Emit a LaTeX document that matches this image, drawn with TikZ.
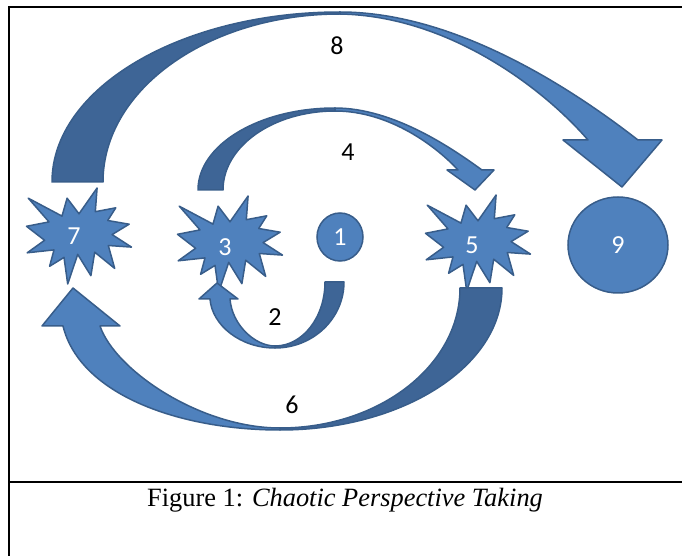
\documentclass[tikz,border=0pt]{standalone}
\usepackage{fontspec}
\setmainfont{Liberation Serif}
\newfontfamily\calibri{Carlito}
\usetikzlibrary{shapes.geometric}
\definecolor{steel}{RGB}{79,129,189}
\definecolor{navy}{RGB}{62,101,150}
\definecolor{rim}{RGB}{56,93,138}
\tikzset{
  blob/.style={ellipse,fill=steel,draw=rim,line width=0.75pt,inner sep=0pt,
    text=white,font=\calibri\fontsize{13}{15}\selectfont},
  num/.style={text=white,font=\calibri\fontsize{13}{15}\selectfont},
  tag/.style={font=\calibri\fontsize{13}{15}\selectfont},
  back/.style={fill=navy,draw=rim,line width=0.75pt,line join=round},
  front/.style={fill=steel,draw=rim,line width=0.75pt,line join=round},
  rule/.style={line width=1.2pt},
  caption/.style={font=\fontsize{13.2}{15}\selectfont,anchor=base},
  % explosion shape
  pics/seal/.style={code={
    \draw[fill=#1,draw=rim,line width=0.75pt,line join=round]
      (0,-22.2) -- (-11.9,-37.8) -- (-17,-19.9) -- (-50.7,-37.8) -- (-30,-14.1)
      -- (-52.5,-9.7) -- (-34.4,4.3) -- (-51.8,16.8) -- (-25,13.9) -- (-29.4,30.3)
      -- (-15,21.4) -- (-11.3,48) -- (-1.3,18.4) -- (11.9,39.7) -- (15.7,16.2)
      -- (35.7,32.4) -- (29.3,9.5) -- (52.5,11.1) -- (33.1,-1.4) -- (50.1,-11.8)
      -- (28.7,-15.5) -- (36.8,-28.2) -- (16.3,-24.3) -- (18.1,-48) -- cycle;
  }},
  pics/seal/.default=steel,
}

\begin{document}
\begin{tikzpicture}[x=0.5pt,y=-0.5pt]
  \useasboundingbox (0,0) rectangle (682,556);
  % frame
  \draw[rule] (682,7) -- (9,7) -- (9,556);
  \draw[rule] (9,482) -- (682,482);

  % stations
  \pic at (79,236) {seal}; \node[num] (n7) at (74,236) {7};
  \pic at (230,244) {seal}; \node[num] (n3) at (225,247) {3};
  \node[blob,minimum width=23pt,minimum height=24pt] (n1) at (340,237) {1};
  \pic at (478,243) {seal}; \node[num] (n5) at (472,245) {5};
  \node[blob,minimum width=50pt,minimum height=48pt] (n9) at (618,245) {9};

  % 8: over the top, 7 to 9
  \draw[back] (52,182) .. controls (52,88) and (181,12) .. (340,12) -- (340,14)
    .. controls (209,14) and (103,89) .. (103,182) -- cycle;
  \draw[front] (340,12) .. controls (460,12) and (580,95) .. (638,140) -- (662,140)
    -- (622,187) -- (563,140) -- (588,140) .. controls (545,90) and (450,16) .. (340,14) -- cycle;
  % 4: 3 to 5
  \draw[back] (198,190) .. controls (198,144.7) and (259.3,108) .. (335,108) -- (335,111)
    .. controls (273.1,111) and (223,146.4) .. (223,190) -- cycle;
  \draw[front] (335,108) .. controls (394,108) and (453,149) .. (482,170) -- (494,170)
    -- (475,190) -- (447,170) -- (458,170) .. controls (437,147) and (390,111) .. (335,111) -- cycle;
  % 2: 1 back to 3
  \draw[back] (344,282) .. controls (344,318.5) and (313.1,348) .. (275,348) -- (275,346)
    .. controls (302.6,346) and (325,317.3) .. (325,282) -- cycle;
  \draw[front] (275,348) .. controls (240,348) and (212,325) .. (210,299) -- (199,299)
    -- (217,283) -- (238,299) -- (230,299) .. controls (232,325) and (255,346) .. (275,346) -- cycle;
  % 6: 5 back to 7
  \draw[back] (502,288) .. controls (502,366.4) and (402.6,430) .. (280,430) -- (280,428)
    .. controls (379.4,428) and (460,365.3) .. (460,288) -- cycle;
  \draw[front] (280,430) .. controls (180,430) and (80,395) .. (63,326) -- (42,326)
    -- (73,288) -- (120,326) -- (100,326) .. controls (115,370) and (200,428) .. (280,428) -- cycle;

  \node[tag] (l8) at (337,46) {8};
  \node[tag] (l4) at (348,152) {4};
  \node[tag] (l2) at (275,317) {2};
  \node[tag] (l6) at (292,405) {6};

  \node[caption] (cap) at (345,507) {Figure 1: \textit{Chaotic Perspective Taking}};
\end{tikzpicture}
\end{document}
